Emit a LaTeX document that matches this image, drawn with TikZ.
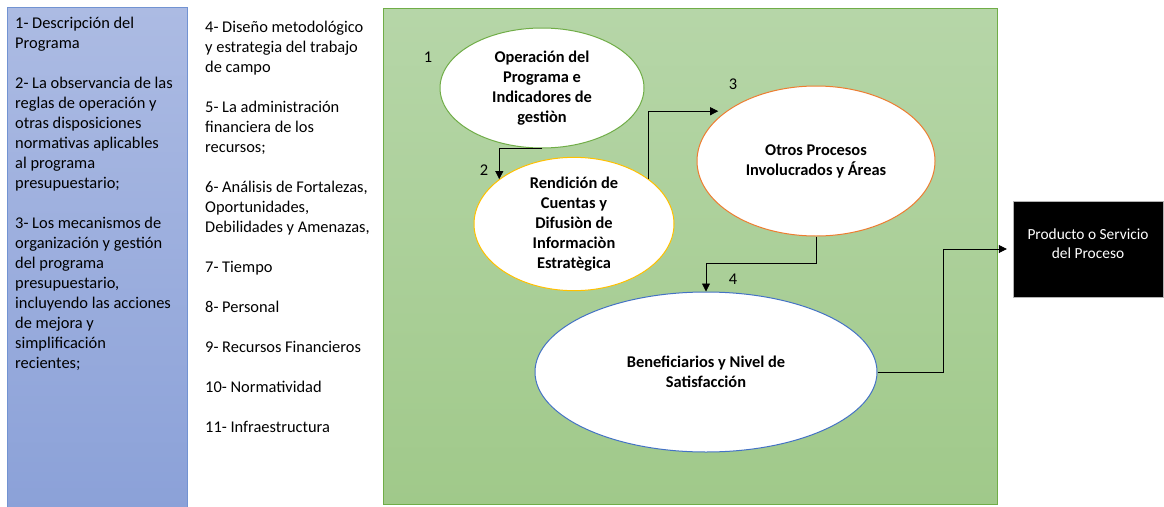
\documentclass[tikz,border=0pt]{standalone}
\usepackage{fontspec}
\setmainfont{Carlito}
\usetikzlibrary{positioning}
\usetikzlibrary{shapes.geometric}
\usetikzlibrary{arrows.meta}
\definecolor{azularriba}{RGB}{172,187,227}
\definecolor{azulabajo}{RGB}{139,161,216}
\definecolor{azulborde}{RGB}{114,147,210}
\definecolor{verdearriba}{RGB}{182,214,168}
\definecolor{verdeabajo}{RGB}{160,201,138}
\definecolor{verdeborde}{RGB}{112,173,71}
\definecolor{oro}{RGB}{255,192,0}
\definecolor{naranja}{RGB}{237,125,49}
\definecolor{azulelipse}{RGB}{68,114,196}

\begin{document}
\begin{tikzpicture}[x=1pt,y=-1pt,
  txt/.style={font=\fontsize{16.4}{20}\selectfont,align=left,inner sep=0pt,anchor=north west},
  ell/.style={ellipse,draw,fill=white,line width=1pt,inner sep=0pt,align=center,font=\fontsize{16.4}{20}\selectfont\bfseries},
  num/.style={font=\fontsize{16.4}{20}\selectfont,inner sep=0pt},
  prod/.style={rectangle,draw=gray!60,fill=black,minimum width=150pt,minimum height=96pt},
  arr/.style={-{Triangle[length=8pt,width=8pt]},line width=0.8pt}]

		  \useasboundingbox (0,0) rectangle (1164,506);

		  % Kaesten
		  \draw[draw=azulborde,top color=azularriba,bottom color=azulabajo] (7,7) rectangle (187,510);
		  \draw[draw=verdeborde,top color=verdearriba,bottom color=verdeabajo] (383,8) rectangle (997,504);

		  % Texte links
		  \node[txt] (T1) at (15,17)
		   {1- Descripción del\\Programa\\[20pt]
			2- La observancia de las\\reglas de operación y\\otras disposiciones\\normativas aplicables\\al programa\\presupuestario;\\[20pt]
			3- Los mecanismos de\\organización y gestión\\del programa\\presupuestario,\\incluyendo las acciones\\de mejora y\\simplificación\\recientes;};
		  \node[txt] (T2) at (205,21)
		   {4- Diseño metodológico\\y estrategia del trabajo\\de campo\\[20pt]
			5- La administración\\financiera de los\\recursos;\\[20pt]
			6- Análisis de Fortalezas,\\Oportunidades,\\Debilidades y Amenazas,\\[20pt]
			7- Tiempo\\[20pt]
			8- Personal\\[20pt]
			9- Recursos Financieros\\[20pt]
			10- Normatividad\\[20pt]
			11- Infraestructura};

		  % Ellipsen
		  \node[ell,draw=verdeborde,minimum width=204pt,minimum height=120pt] (OP) at (542,88)
		   {Operación del\\Programa e\\Indicadores de\\gestiòn};
		  \node[ell,draw=oro,minimum width=200pt,minimum height=122pt] (RC) [below right=136pt and 32pt of OP.center,anchor=center]
		   {Rendición de\\Cuentas y\\Difusiòn de\\Informaciòn\\Estratègica};
		  \node[ell,draw=naranja,minimum width=238pt,minimum height=150pt] (OT) [below right=73pt and 274pt of OP.center,anchor=center]
		   {Otros Procesos\\Involucrados y Áreas};
		  \node[ell,draw=azulelipse,minimum width=342pt,minimum height=160pt] (BN) [below left=211pt and 110pt of OT.center,anchor=center]
		   {Beneficiarios y Nivel de\\Satisfacción};
		  \node[prod,label={[text=white,align=center,font=\fontsize{15.4}{19.5}\selectfont,yshift=5.5pt]center:Producto o Servicio\\del Proceso}] (PR)
		   [below right=88pt and 272pt of OT.center,anchor=center] {};

		  % Nummern
		  \node[num] (n1) at (428,57) {1};
		  \node[num] (n2) at (484,170) {2};
		  \node[num] (n3) at (733,84) {3};
		  \node[num] (n4) at (733,279) {4};

		  % Pfeile
		  \draw[arr] (OP.south) -| (RC.149);
		  \draw[arr,shorten >=8pt] (RC.31) |- (OT.151);
		  \draw[arr] (OT.south) -- ++(0,27) -| (BN.north);
		  \draw[arr,shorten >=6pt] (BN.east) -- ++(66,0) |- (PR.west);

		\end{tikzpicture}
\end{document}
